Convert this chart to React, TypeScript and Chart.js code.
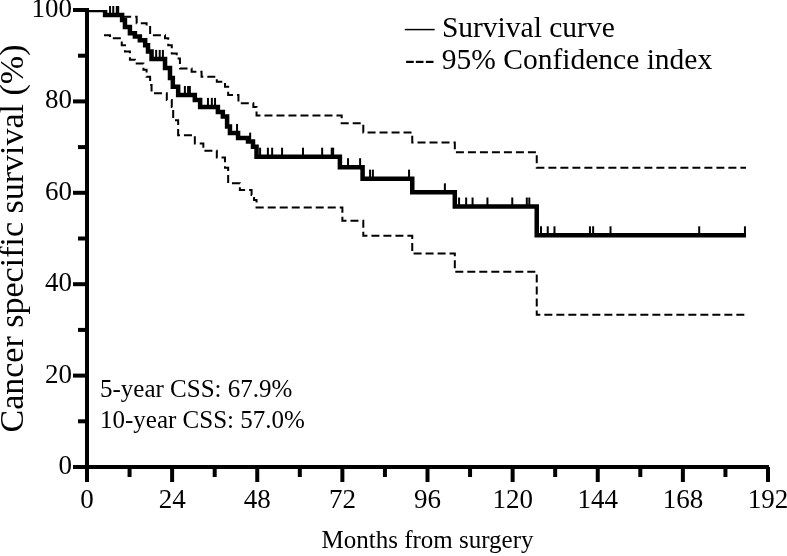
import React, { useEffect, useRef } from 'react';
import { Chart, registerables } from 'chart.js';

Chart.register(...registerables);

// Kaplan-Meier survival curve (months, % surviving)
const survMonths = [0, 5.1, 9.9, 10.7, 12.1, 13.5, 14.9, 16.4, 17.2, 18.2, 22.0, 23.4, 24.2, 25.7, 30.4, 31.9, 36.9, 38.3, 39.5, 40.3, 42.6, 45.4, 46.8, 47.8, 71.3, 77.7, 91.7, 103.7, 126.8, 185.8];
const survValues = [100, 98.9, 97.8, 96.3, 94.9, 94.2, 93.4, 92.3, 90.9, 89.3, 87.3, 85.1, 83.2, 81.4, 80.3, 78.8, 77.7, 76.7, 74.5, 73.1, 72.0, 71.2, 70.1, 67.9, 65.6, 63.1, 60.1, 57.0, 50.7, 50.7];

// Upper 95% confidence bound
const upperMonths = [10.2, 14.0, 16.8, 17.8, 22.0, 22.9, 23.9, 25.3, 26.2, 29.5, 32.3, 36.6, 38.9, 39.8, 42.7, 46.9, 47.8, 71.8, 77.9, 91.7, 103.7, 126.8, 185.8];
const upperValues = [98.5, 97.1, 96.3, 94.5, 93.8, 92.3, 90.5, 89.4, 87.2, 86.5, 85.4, 84.3, 83.2, 81.4, 79.6, 78.8, 76.9, 75.2, 73.2, 71.0, 68.9, 65.5, 65.5];

// Lower 95% confidence bound
const lowerMonths = [4.8, 6.5, 9.8, 10.7, 12.1, 13.5, 15.9, 16.8, 17.8, 18.2, 22.5, 23.9, 24.3, 25.7, 30.4, 32.8, 36.6, 38.9, 39.8, 43.1, 46.4, 47.1, 47.8, 72.0, 77.9, 91.7, 103.7, 126.8, 185.8];
const lowerValues = [94.5, 93.8, 92.3, 90.9, 89.1, 88.3, 86.9, 85.4, 83.6, 81.8, 80.3, 78.8, 75.9, 72.6, 70.8, 69.2, 67.7, 65.5, 62.1, 60.6, 59.5, 58.4, 56.8, 53.9, 50.6, 46.7, 42.7, 33.3, 33.3];

// Censored observations (months)
const censorMonths = [6.5, 7.4, 8.4, 8.8, 19.5, 20.5, 21.4, 27.6, 28.5, 29.0, 34.1, 35.2, 36.1, 42.3, 46.0, 48.8, 51.0, 52.2, 55.0, 60.9, 66.3, 69.0, 69.4, 73.6, 77.0, 79.8, 80.6, 90.8, 100.9, 104.9, 106.9, 108.7, 112.9, 119.9, 124.0, 124.7, 128.0, 129.9, 131.8, 141.8, 142.7, 147.6, 172.6, 185.5];

const xMax = 192;
const xLabelStep = 24;
const xMinorStep = 12;
const yMax = 100;
const yLabelStep = 20;
const yMinorStep = 10;

const legendLines = ['\u2014 Survival curve', '--- 95% Confidence index'];
const noteLines = ['5-year CSS: 67.9%', '10-year CSS: 57.0%'];
const xTitle = 'Months from surgery';
const yTitle = 'Cancer specific survival (%)';

const FONT = '"Liberation Serif", "Times New Roman", serif';

function survAt(m: number): number {
  let v = survValues[0];
  for (let i = 0; i < survMonths.length; i++) {
    if (survMonths[i] <= m) v = survValues[i];
  }
  return v;
}

function toPoints(xs: number[], ys: number[]) {
  return xs.map((x, i) => ({ x, y: ys[i] }));
}

const axisTicksPlugin = {
  id: 'axisTicks',
  afterDraw(chart: any) {
    const { ctx, scales } = chart;
    const xs = scales.x;
    const ys = scales.y;
    const area = chart.chartArea;
    ctx.save();
    ctx.strokeStyle = '#000';
    ctx.lineWidth = 4;
    ctx.lineCap = 'butt';
    for (let m = 0; m <= xMax; m += xMinorStep) {
      const px = xs.getPixelForValue(m);
      const len = m % xLabelStep === 0 ? 15 : 10;
      ctx.beginPath();
      ctx.moveTo(px, area.bottom);
      ctx.lineTo(px, area.bottom + len);
      ctx.stroke();
    }
    for (let v = 0; v <= yMax; v += yMinorStep) {
      const py = ys.getPixelForValue(v);
      const len = v % yLabelStep === 0 ? 14 : 9;
      ctx.beginPath();
      ctx.moveTo(area.left, py);
      ctx.lineTo(area.left - len, py);
      ctx.stroke();
    }
    ctx.restore();
  },
};

const censorPlugin = {
  id: 'censorMarks',
  afterDatasetsDraw(chart: any) {
    const { ctx, scales } = chart;
    ctx.save();
    ctx.strokeStyle = '#000';
    ctx.lineWidth = 2;
    censorMonths.forEach((m) => {
      const px = scales.x.getPixelForValue(m);
      const py = scales.y.getPixelForValue(survAt(m));
      ctx.beginPath();
      ctx.moveTo(px, py);
      ctx.lineTo(px, py - 9);
      ctx.stroke();
    });
    ctx.restore();
  },
};

const textPlugin = {
  id: 'texts',
  afterDraw(chart: any) {
    const { ctx } = chart;
    ctx.save();
    ctx.fillStyle = '#000';
    ctx.textAlign = 'left';
    ctx.textBaseline = 'middle';
    ctx.font = `29.5px ${FONT}`;
    ctx.fillText(legendLines[0], 405, 29);
    ctx.fillText(legendLines[1], 405, 61);
    ctx.font = `25px ${FONT}`;
    ctx.fillText(noteLines[0], 100, 390);
    ctx.fillText(noteLines[1], 100, 421);
    ctx.restore();
  },
};

export default function App() {
  const canvasRef = useRef<HTMLCanvasElement | null>(null);

  useEffect(() => {
    if (!canvasRef.current) return;
    const chart = new Chart(canvasRef.current, {
      type: 'line',
      data: {
        datasets: [
          {
            label: 'Survival curve',
            data: toPoints(survMonths, survValues),
            borderColor: '#000',
            borderWidth: 4.5,
            stepped: true,
            pointRadius: 0,
            fill: false,
            borderJoinStyle: 'miter',
          },
          {
            label: 'Upper 95% CI',
            data: toPoints(upperMonths, upperValues),
            borderColor: '#000',
            borderWidth: 2,
            borderDash: [8, 4],
            stepped: true,
            pointRadius: 0,
            fill: false,
          },
          {
            label: 'Lower 95% CI',
            data: toPoints(lowerMonths, lowerValues),
            borderColor: '#000',
            borderWidth: 2,
            borderDash: [8, 4],
            stepped: true,
            pointRadius: 0,
            fill: false,
          },
        ],
      },
      options: {
        animation: false,
        responsive: true,
        maintainAspectRatio: false,
        layout: { padding: { top: 10, right: 19, left: 0, bottom: 0 } },
        plugins: {
          legend: { display: false },
          tooltip: { enabled: false },
        },
        scales: {
          x: {
            type: 'linear',
            min: 0,
            max: xMax,
            grid: { display: false, drawTicks: false },
            border: { display: true, width: 4, color: '#000' },
            ticks: {
              stepSize: xLabelStep,
              color: '#000',
              font: { family: FONT, size: 27 },
              padding: 18,
              maxRotation: 0,
              autoSkip: false,
            },
            title: {
              display: true,
              text: xTitle,
              color: '#000',
              font: { family: FONT, size: 25 },
              padding: { top: 0, bottom: 0 },
            },
            afterFit(scale: any) {
              scale.height = 89;
              scale.paddingLeft = 0;
              scale.paddingRight = 0;
            },
          },
          y: {
            type: 'linear',
            min: 0,
            max: yMax,
            grid: { display: false, drawTicks: false },
            border: { display: true, width: 4, color: '#000' },
            ticks: {
              stepSize: yLabelStep,
              color: '#000',
              font: { family: FONT, size: 27 },
              padding: 15,
            },
            title: {
              display: true,
              text: yTitle,
              color: '#000',
              font: { family: FONT, size: 34, lineHeight: 0.85 },
              padding: { top: 0, bottom: 0 },
            },
            afterFit(scale: any) {
              scale.width = 87;
              scale.paddingTop = 0;
              scale.paddingBottom = 0;
            },
          },
        },
      },
      plugins: [axisTicksPlugin, censorPlugin, textPlugin],
    } as any);
    return () => chart.destroy();
  }, []);

  return (
    <div style={{ position: 'fixed', left: 0, top: 0, width: 787, height: 556, background: '#fff' }}>
      <canvas ref={canvasRef} />
    </div>
  );
}
